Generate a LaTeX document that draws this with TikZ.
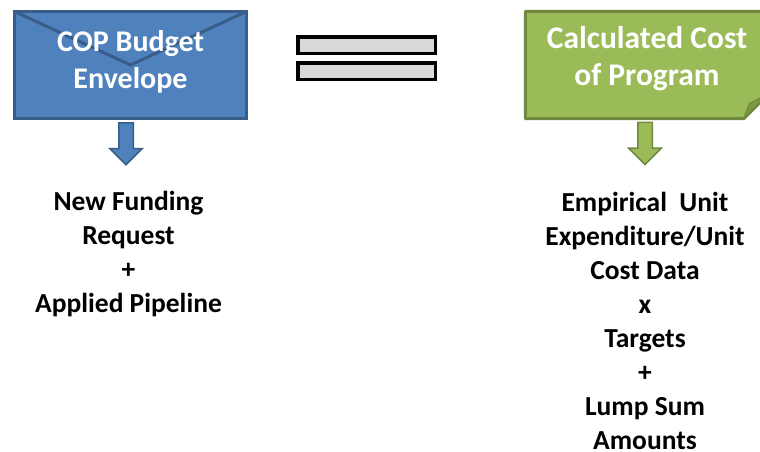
\documentclass[tikz,border=0pt]{standalone}
\usepackage{fontspec}
\setmainfont{Carlito}
\usetikzlibrary{positioning, shapes.arrows, backgrounds}
\definecolor{envblue}{HTML}{4F81BD}
\definecolor{envline}{HTML}{385D8A}
\definecolor{costgreen}{HTML}{9BBB59}
\definecolor{costline}{HTML}{71893F}
\definecolor{costfold}{HTML}{7D9A45}
\definecolor{eqgray}{HTML}{D9D9D9}

\begin{document}
\begin{tikzpicture}[x=1pt,y=-1pt,
    boxtext/.style={text=white, font=\fontsize{30}{37}\selectfont\bfseries, align=center},
    envbox/.style={draw=envline, fill=envblue, line width=3pt, minimum width=232pt, minimum height=107pt,
      path picture={\draw[envline, line width=3pt] (path picture bounding box.north west)
        -- (path picture bounding box.center) -- (path picture bounding box.north east);}},
    costbox/.style={minimum width=243pt, minimum height=107pt},
    downarrow/.style={single arrow, shape border rotate=270, line width=1.5pt, inner sep=6.5pt,
      minimum height=42pt, single arrow head extend=9pt},
    eqbar/.style={draw=black, fill=eqgray, line width=3.5pt, minimum width=137.5pt, minimum height=16.5pt, inner sep=0pt},
    sumtext/.style={font=\fontsize{27.5}{34}\selectfont\bfseries, align=center, inner sep=0pt}]
  \clip (0,0) rectangle (760,451);

  \node[envbox] (envelope) at (130.5,65) {};
  \node[boxtext] (envlabel) at ([yshift=3pt]envelope.center) {COP Budget\\Envelope};
  \node[downarrow, draw=envline, fill=envblue, below=2pt of envelope, xshift=-4.5pt] (envarrow) {};
  \node[sumtext, below=25pt of envarrow, xshift=2.5pt] (funding) {New Funding\\Request\\+\\Applied Pipeline};

  \node[eqbar] (eqtop) at (366.5,45) {};
  \node[eqbar, below=6pt of eqtop] (eqbottom) {};

  \node[costbox] (cost) at (647,65) {};
  \begin{scope}[on background layer]
    \draw[costline, fill=costgreen, line width=3pt, line join=round] (cost.north west) -- (cost.north east)
      -- ([yshift=25pt]cost.south east) -- ([xshift=-25pt]cost.south east) -- (cost.south west) -- cycle;
    \draw[costline, fill=costfold, line width=1.5pt, line join=round] ([xshift=-25pt]cost.south east)
      -- ([xshift=-19pt,yshift=15pt]cost.south east) -- ([yshift=25pt]cost.south east) -- cycle;
  \end{scope}
  \node[boxtext, font=\fontsize{31.5}{37}\selectfont\bfseries] (costlabel) at ([yshift=6pt]cost.center) {Calculated Cost\\of Program};
  \node[downarrow, draw=costline, fill=costgreen, below=3pt of cost, xshift=-2pt] (costarrow) {};
  \node[sumtext, below=26pt of costarrow] (unitcost) {Empirical~ Unit\\Expenditure/Unit\\Cost Data\\x\\Targets\\+\\Lump Sum\\Amounts};
\end{tikzpicture}
\end{document}
